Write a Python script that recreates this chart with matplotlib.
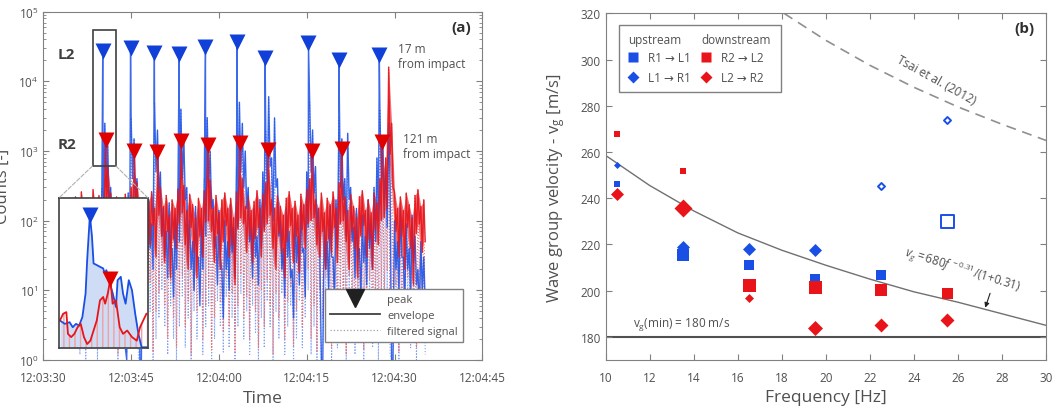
import matplotlib
matplotlib.use('Agg')
import matplotlib.pyplot as plt
import numpy as np
from matplotlib.lines import Line2D
from matplotlib.patches import Rectangle, ConnectionPatch

plt.rcParams['font.family'] = ['Open Sans', 'DejaVu Sans']
plt.rcParams['mathtext.fontset'] = 'custom'
plt.rcParams['mathtext.rm'] = 'Open Sans'
plt.rcParams['mathtext.it'] = 'Open Sans:italic'

BLUE = '#1a4fe6'
RED = '#e8141a'
GRAY = '#808080'
TXT = '#505050'

# ---------------- panel (a): counts vs time (seconds after 12:03:30) ----------------
time_ticks = [0, 15, 30, 45, 60, 75]
time_labels = ['12:03:30', '12:03:45', '12:04:00', '12:04:15', '12:04:30', '12:04:45']

t_start = 5.0
t_step = 0.5

# envelope L2 (blue): upper / lower swing, one pair every 0.5 s from 5 s to 65 s
blue_env = [40, 80, 25, 150, 60, 30, 120, 50, 200, 70,
            300, 2500, 1200, 300, 150, 60, 180, 90, 1.5, 250,
            3000, 1500, 400, 1, 120, 60, 200, 90, 5000, 2000,
            500, 150, 70, 180, 40, 110, 300, 4000, 1500, 300,
            100, 50, 160, 30, 90, 400, 3000, 1000, 200, 60,
            140, 20, 100, 50, 170, 80, 600, 5000, 2500, 1000,
            300, 80, 150, 60, 200, 500, 2000, 6000, 800, 3000,
            400, 100, 40, 150, 70, 20, 130, 60, 180, 40,
            500, 5000, 2000, 600, 150, 1, 100, 50, 160, 30,
            200, 3000, 1500, 400, 1800, 300, 80, 150, 40, 120,
            60, 200, 90, 300, 800, 4000, 1500, 500, 2500, 1,
            100, 50, 150, 30, 90, 40, 120, 60, 20, 50, 30]
blue_lo = [10, 25, 5, 40, 15, 8, 30, 12, 50, 20,
           60, 300, 150, 40, 20, 10, 35, 15, 1, 30,
           400, 200, 50, 1, 25, 12, 40, 20, 500, 250,
           60, 30, 15, 40, 8, 20, 50, 400, 200, 40,
           20, 10, 30, 6, 20, 60, 300, 150, 40, 12,
           30, 4, 20, 10, 35, 15, 80, 500, 300, 150,
           50, 15, 30, 12, 40, 80, 250, 600, 100, 300,
           60, 20, 8, 30, 15, 4, 25, 12, 35, 8,
           80, 500, 250, 80, 30, 1, 20, 10, 30, 6,
           40, 300, 200, 60, 200, 50, 15, 30, 8, 25,
           12, 40, 20, 50, 100, 400, 200, 80, 300, 1,
           20, 10, 30, 6, 20, 8, 25, 12, 4, 10, 6]

# envelope R2 (red)
red_env = [150, 220, 160, 260, 130, 200, 170, 280, 140, 230,
           180, 400, 600, 250, 150, 220, 140, 190, 240, 160,
           300, 500, 350, 170, 210, 130, 190, 260, 150, 450,
           300, 160, 230, 120, 200, 150, 280, 600, 320, 140,
           240, 170, 110, 210, 150, 270, 450, 380, 150, 230,
           130, 200, 250, 150, 210, 110, 260, 500, 400, 160,
           220, 140, 190, 270, 150, 240, 350, 550, 200, 150,
           230, 160, 120, 210, 260, 150, 190, 120, 240, 170,
           280, 400, 500, 200, 150, 250, 130, 210, 170, 260,
           150, 350, 450, 220, 140, 240, 160, 110, 220, 270,
           140, 200, 130, 250, 180, 400, 500, 800, 16000, 2500,
           260, 150, 220, 140, 250, 170, 110, 230, 280, 160, 200]
red_lo = [40, 70, 25, 90, 35, 60, 20, 80, 45, 30,
          55, 100, 120, 35, 60, 25, 80, 40, 15, 70,
          90, 110, 50, 30, 75, 20, 45, 85, 30, 120,
          60, 25, 70, 15, 55, 40, 90, 130, 45, 20,
          80, 35, 15, 60, 30, 95, 100, 70, 25, 65,
          20, 50, 85, 30, 45, 12, 75, 110, 90, 35,
          60, 25, 55, 80, 30, 70, 90, 120, 40, 20,
          65, 35, 15, 50, 85, 25, 60, 18, 75, 40,
          90, 100, 110, 45, 30, 70, 20, 55, 35, 80,
          25, 90, 100, 50, 20, 70, 40, 15, 60, 85,
          30, 55, 20, 75, 45, 100, 110, 150, 900, 300,
          70, 30, 60, 20, 80, 40, 12, 65, 90, 35, 50]

# troughs of the filtered signal
blue_trough = [2, 5, 1.2, 3, 1, 4, 1.5, 6, 1, 2.5, 3, 8, 4, 1.5, 5, 1, 2, 7, 1.3, 3,
               2, 9, 1, 4, 6, 1.5, 5, 1, 2, 4, 10, 3, 1.2, 6, 2, 1, 3, 8, 1.5, 4,
               1, 5, 2, 9, 1.2, 3, 6, 1, 2, 7, 3, 1.3, 8, 1.5, 4, 1, 3, 9, 2, 5,
               1.2, 6, 2.5, 1, 4, 1.5, 7, 3, 1, 5, 2, 9, 1.2, 3, 6, 1, 2, 7, 1.5, 4,
               10, 1.2, 3, 1, 5, 2, 8, 4, 1, 6, 1.5, 5, 2.5, 1, 9, 3, 1.2, 6, 2, 1,
               4, 7, 1.5, 3, 1, 5, 2.5, 10, 1.2, 3, 6, 1, 2, 4, 8, 1.5, 3, 1, 5, 2.5, 1.2]
red_trough = [4, 12, 2, 7, 1.5, 9, 3, 15, 2, 6, 5, 20, 8, 3, 11, 1.2, 6, 14, 2.5, 8,
              4, 18, 1.5, 7, 10, 3, 13, 1.3, 5, 9, 22, 6, 2, 12, 4, 1.5, 8, 16, 3, 7,
              1.2, 10, 5, 19, 2, 6, 11, 1.4, 4, 13, 7, 2.5, 15, 3, 9, 1.3, 6, 17, 4, 8,
              2, 12, 5, 1.5, 10, 3, 14, 6, 1.2, 9, 4, 18, 2, 7, 11, 1.6, 5, 13, 3, 8,
              20, 2, 6, 1.3, 10, 4, 15, 7, 1.5, 12, 3, 9, 5, 1.2, 16, 6, 2.5, 11, 4, 1.4,
              8, 14, 3, 7, 1.8, 10, 5, 19, 2, 6, 12, 1.3, 4, 9, 15, 3, 7, 1.5, 11, 5, 2]

# detected peaks
blue_peak_t = [10.15, 14.9, 18.97, 23.2, 27.7, 33.1, 37.9, 45.3, 50.5, 57.4]
blue_peak_v = [27000, 30500, 25700, 24400, 31000, 36600, 21300, 35600, 20500, 23800]
red_peak_t = [10.7, 15.55, 19.5, 23.6, 28.2, 33.6, 38.4, 45.9, 51.0, 57.8]
red_peak_v = [1440, 1000, 970, 1390, 1240, 1320, 1030, 1000, 1060, 1330]

# close-up of the first event (inset)
inset_blue_t = [9.346, 9.475, 9.604, 9.69, 9.776, 9.862, 9.948, 10.034, 10.077, 10.15,
                10.206, 10.249, 10.335, 10.421, 10.507, 10.55, 10.593, 10.636, 10.765,
                10.851, 10.894, 10.98, 11.04, 11.109, 11.195, 11.281, 11.367, 11.453,
                11.539, 11.668]
inset_blue_v = [213, 182, 197, 156, 182, 169, 249, 733, 3440, 27000,
                10100, 2940, 2730, 2520, 2340, 1850, 2160, 1590, 733,
                395, 1360, 1590, 733, 461, 1360, 855, 290, 115, 62, 62]
inset_red_t = [9.346, 9.432, 9.518, 9.561, 9.647, 9.733, 9.819, 9.905, 9.991, 10.077,
               10.163, 10.249, 10.335, 10.421, 10.507, 10.56, 10.63, 10.7, 10.76,
               10.85, 10.95, 11.04, 11.152, 11.281, 11.41, 11.496, 11.582, 11.668]
inset_red_v = [213, 290, 313, 115, 99, 115, 156, 182, 99, 72,
               84, 134, 213, 538, 628, 461, 733, 1440, 461,
               538, 156, 115, 134, 99, 84, 156, 213, 290]

# ---------------- panel (b): group velocity vs frequency ----------------
freq = [10.5, 13.5, 16.5, 19.5, 22.5, 25.5]
up_sq_v = [246, 215.3, 211, 205.2, 206.9, 230]          # R1 -> L1
up_sq_w = [6, 12, 10, 10, 10, 13]
up_sq_filled = [True, True, True, True, True, False]
up_di_v = [254.2, 218.9, 218.2, 217.4, 245.2, 274]      # L1 -> R1
up_di_w = [7, 13, 13, 13, 7, 7]
up_di_filled = [True, True, True, True, False, False]
dn_sq_v = [267.6, 251.9, 202.3, 201.6, 200.4, 199.2]    # R2 -> L2
dn_sq_w = [6, 6, 13, 13, 12, 11]
dn_di_v = [242, 235.7, 196.8, 183.9, 185, 187.2]        # L2 -> R2
dn_di_w = [13, 18, 9, 15, 14, 14]

fit_f = [10, 12, 14, 16, 18, 20, 22, 24, 26, 28, 30]
fit_v = [258.5, 245.5, 234.5, 225, 217.5, 211, 205, 199.5, 195, 190, 185]
tsai_f = [18.1, 20, 22, 24, 26, 28, 30]
tsai_v = [320, 308.3, 297.5, 288, 279.5, 272, 265]
vg_min = 180


def zigzag(hi, lo, extra_t=None, extra_v=None):
    n = min(len(hi), len(lo))
    t_hi = t_start + t_step * np.arange(n)
    t = np.empty(2 * n)
    v = np.empty(2 * n)
    t[0::2] = t_hi
    t[1::2] = t_hi + t_step / 2
    v[0::2] = hi[:n]
    v[1::2] = lo[:n]
    if extra_t is not None:
        t = np.concatenate([t, extra_t])
        v = np.concatenate([v, extra_v])
        order = np.argsort(t)
        t, v = t[order], v[order]
    return t, v


fig = plt.figure(figsize=(10.57, 4.10), dpi=100)

ax1 = fig.add_axes([0.041, 0.1195, 0.4153, 0.8495])
ax1.set_yscale('log')

# filtered signal (dotted)
tf, vf = zigzag(blue_env, blue_trough)
ax1.plot(tf, vf, ls=':', color='#7f9ff0', lw=0.8)
tf, vf = zigzag(red_env, red_trough)
ax1.plot(tf, vf, ls=':', color='#ee7070', lw=0.8)

# envelopes
tb, vb = zigzag(blue_env, blue_lo, blue_peak_t, blue_peak_v)
ax1.plot(tb, vb, color=BLUE, lw=1.0, alpha=0.85)
n = min(len(red_env), len(red_lo))
t_grid = t_start + t_step * np.arange(n)
ax1.fill_between(t_grid, red_lo[:n], red_env[:n], color=RED, alpha=0.6, lw=0)
tr, vr = zigzag(red_env, red_lo, red_peak_t, red_peak_v)
ax1.plot(tr, vr, color=RED, lw=1.0, alpha=0.9)

ax1.plot(blue_peak_t, blue_peak_v, 'v', color='#1040d8', ms=12, mec='none')
ax1.plot(red_peak_t, red_peak_v, 'v', color='#e00000', ms=12, mec='none')

ax1.set_xlim(0, 75)
ax1.set_ylim(1, 1e5)
ax1.set_xticks(time_ticks)
ax1.set_xticklabels(time_labels)
ax1.tick_params(which='both', direction='in', top=True, right=True, colors=GRAY,
                labelcolor=TXT, labelsize=8.5)
ax1.tick_params(axis='x', pad=8)
ax1.tick_params(which='major', length=4)
ax1.tick_params(which='minor', length=2)
for s in ax1.spines.values():
    s.set_color(GRAY)
ax1.set_xlabel('Time', fontsize=12.5, color=TXT)
ax1.xaxis.set_label_coords(0.5, -0.085)
ax1.set_ylabel('Counts [-]', fontsize=12, color=TXT)
ax1.yaxis.set_label_coords(-0.075, 0.5)

ax1.text(0.053, 0.879, 'L2', transform=ax1.transAxes, fontsize=11, fontweight='bold',
         color='#404040', ha='center', va='center')
ax1.text(0.053, 0.62, 'R2', transform=ax1.transAxes, fontsize=11, fontweight='bold',
         color='#404040', ha='center', va='center')
ax1.text(0.807, 0.873, '17 m\nfrom impact', transform=ax1.transAxes, fontsize=8.5,
         color=TXT, ha='left', va='center', linespacing=1.2)
ax1.text(0.819, 0.614, '121 m\nfrom impact', transform=ax1.transAxes, fontsize=8.5,
         color=TXT, ha='left', va='center', linespacing=1.2,
         bbox=dict(facecolor='white', edgecolor='none', pad=0.5, alpha=0.6))
ax1.text(0.975, 0.955, '(a)', transform=ax1.transAxes, fontsize=11, fontweight='bold',
         color='#303030', ha='right', va='center')

# zoom box and connectors
box_t0, box_t1, box_v0, box_v1 = 8.4, 12.4, 610, 55000
ax1.add_patch(Rectangle((box_t0, box_v0), box_t1 - box_t0, box_v1 - box_v0,
                        fill=False, ec='#404040', lw=1.2, zorder=5))

leg_handles = [Line2D([], [], ls='none', marker='v', color='#202020', ms=13),
               Line2D([], [], color='#404040', lw=1.3),
               Line2D([], [], color='#a0a0a0', lw=0.9, ls=':')]
leg = ax1.legend(leg_handles, ['peak', 'envelope', 'filtered signal'], loc='lower right',
                 bbox_to_anchor=(0.968, 0.037), fontsize=8, frameon=True, fancybox=False,
                 framealpha=1, edgecolor=GRAY, handlelength=4.5, borderpad=0.45,
                 labelspacing=0.45, handletextpad=0.6)
for t in leg.get_texts():
    t.set_color(TXT)

ax_in = fig.add_axes([0.0558, 0.1488, 0.0842, 0.366])
ax_in.set_yscale('log')
ax_in.fill_between(inset_blue_t, 1, inset_blue_v, color='#cfdcf6', lw=0)
ax_in.fill_between(inset_red_t, 1, inset_red_v, facecolor='none', edgecolor='#f0a0a0',
                   hatch='|||', lw=0)
ax_in.plot(inset_blue_t, inset_blue_v, color=BLUE, lw=1.3)
ax_in.plot(inset_red_t, inset_red_v, color=RED, lw=1.3)
ax_in.plot(blue_peak_t[:1], blue_peak_v[:1], 'v', color='#1040d8', ms=11, mec='none')
ax_in.plot(red_peak_t[:1], red_peak_v[:1], 'v', color='#e00000', ms=11, mec='none')
ax_in.set_xlim(9.32, 11.71)
ax_in.set_ylim(60, 60000)
ax_in.set_xticks([])
ax_in.set_yticks([])
ax_in.minorticks_off()
ax_in.tick_params(which='both', length=0)
for s in ax_in.spines.values():
    s.set_color('#404040')
    s.set_linewidth(1.2)

for (xa, xb) in [((box_t0, box_v0), (0, 1)), ((box_t1, box_v0), (1, 1))]:
    con = ConnectionPatch(xyA=xa, coordsA=ax1.transData, xyB=xb, coordsB=ax_in.transAxes,
                          color='#b0b0b0', lw=0.8, ls='--')
    fig.add_artist(con)

# ---------------- panel (b) ----------------
ax2 = fig.add_axes([0.573, 0.1195, 0.4166, 0.8456])

ax2.axhline(vg_min, color='#505050', lw=1.5, zorder=1)
ax2.plot(fit_f, fit_v, color='#707070', lw=1.0, zorder=1)
ax2.plot(tsai_f, tsai_v, color='#909090', lw=1.2, ls=(0, (6, 4)), zorder=1)


def sq_size(w):
    return (w * 0.72) ** 2


def di_size(w):
    return (w * 0.72 / np.sqrt(2)) ** 2


def draw(vals, widths, marker, color, filled=None, size_fn=sq_size):
    if filled is None:
        filled = [True] * len(vals)
    for f, v, w, fl in zip(freq, vals, widths, filled):
        if fl:
            ax2.scatter([f], [v], s=size_fn(w), marker=marker, color=color, lw=0, zorder=3)
        else:
            ax2.scatter([f], [v], s=size_fn(w), marker=marker, facecolor='white',
                        edgecolor=color, lw=1.4, zorder=3)


draw(up_sq_v, up_sq_w, 's', BLUE, up_sq_filled, sq_size)
draw(up_di_v, up_di_w, 'D', BLUE, up_di_filled, di_size)
draw(dn_sq_v, dn_sq_w, 's', RED, None, sq_size)
draw(dn_di_v, dn_di_w, 'D', RED, None, di_size)

ax2.set_xlim(10, 30)
ax2.set_ylim(170, 320)
ax2.set_xticks(range(10, 31, 2))
ax2.set_yticks(range(180, 321, 20))
ax2.tick_params(direction='in', top=True, right=True, colors=GRAY, labelcolor=TXT,
                labelsize=8.5, length=4)
ax2.tick_params(axis='x', pad=8)
for s in ax2.spines.values():
    s.set_color(GRAY)
ax2.set_xlabel('Frequency [Hz]', fontsize=12.5, color=TXT)
ax2.xaxis.set_label_coords(0.5, -0.085)
ax2.set_ylabel('Wave group velocity - v$_\\mathregular{g}$ [m/s]', fontsize=12, color=TXT)
ax2.yaxis.set_label_coords(-0.088, 0.5)

ax2.text(11.25, 182.3, 'v$_\\mathregular{g}$(min) = 180 m/s', fontsize=8.5, color=TXT,
         ha='left', va='bottom')
ax2.text(25.0, 291.2, 'Tsai et al. (2012)', fontsize=8.5, color=TXT, rotation=-29,
         ha='center', va='center', rotation_mode='anchor')
ax2.text(26.2, 209.0, '$v_g = 680f^{\\,-0.31}/(1{+}0.31)$', fontsize=8.5, color=TXT,
         rotation=-17, ha='center', va='center', rotation_mode='anchor')
ax2.annotate('', xy=(27.2, 191.5), xytext=(27.5, 200),
             arrowprops=dict(arrowstyle='-|>', color='#202020', lw=0.8,
                             mutation_scale=7))
ax2.text(0.975, 0.958, '(b)', transform=ax2.transAxes, fontsize=11, fontweight='bold',
         color='#303030', ha='right', va='center')

# legend drawn by hand (two column headers)
ax2.add_patch(Rectangle((0.030, 0.773), 0.368, 0.193, transform=ax2.transAxes,
                        facecolor='white', edgecolor=GRAY, lw=1.0, zorder=4))
ax2.text(0.051, 0.925, 'upstream', transform=ax2.transAxes, fontsize=8.5, color=TXT,
         va='center', zorder=5)
ax2.text(0.218, 0.925, 'downstream', transform=ax2.transAxes, fontsize=8.5, color=TXT,
         va='center', zorder=5)
leg_rows = [(0.0627, 0.873, 's', BLUE, 'R1 → L1', 6.5),
            (0.0627, 0.815, 'D', BLUE, 'L1 → R1', 6.0),
            (0.227, 0.873, 's', RED, 'R2 → L2', 6.5),
            (0.227, 0.815, 'D', RED, 'L2 → R2', 6.0)]
for x, y, m, c, lab, ms in leg_rows:
    ax2.plot([x], [y], marker=m, color=c, ms=ms, mec='none', ls='none',
             transform=ax2.transAxes, zorder=5, clip_on=False)
    ax2.text(x + 0.034, y, lab, transform=ax2.transAxes, fontsize=8.5, color=TXT,
             va='center', zorder=5)

fig.savefig('out.png', dpi=100)
